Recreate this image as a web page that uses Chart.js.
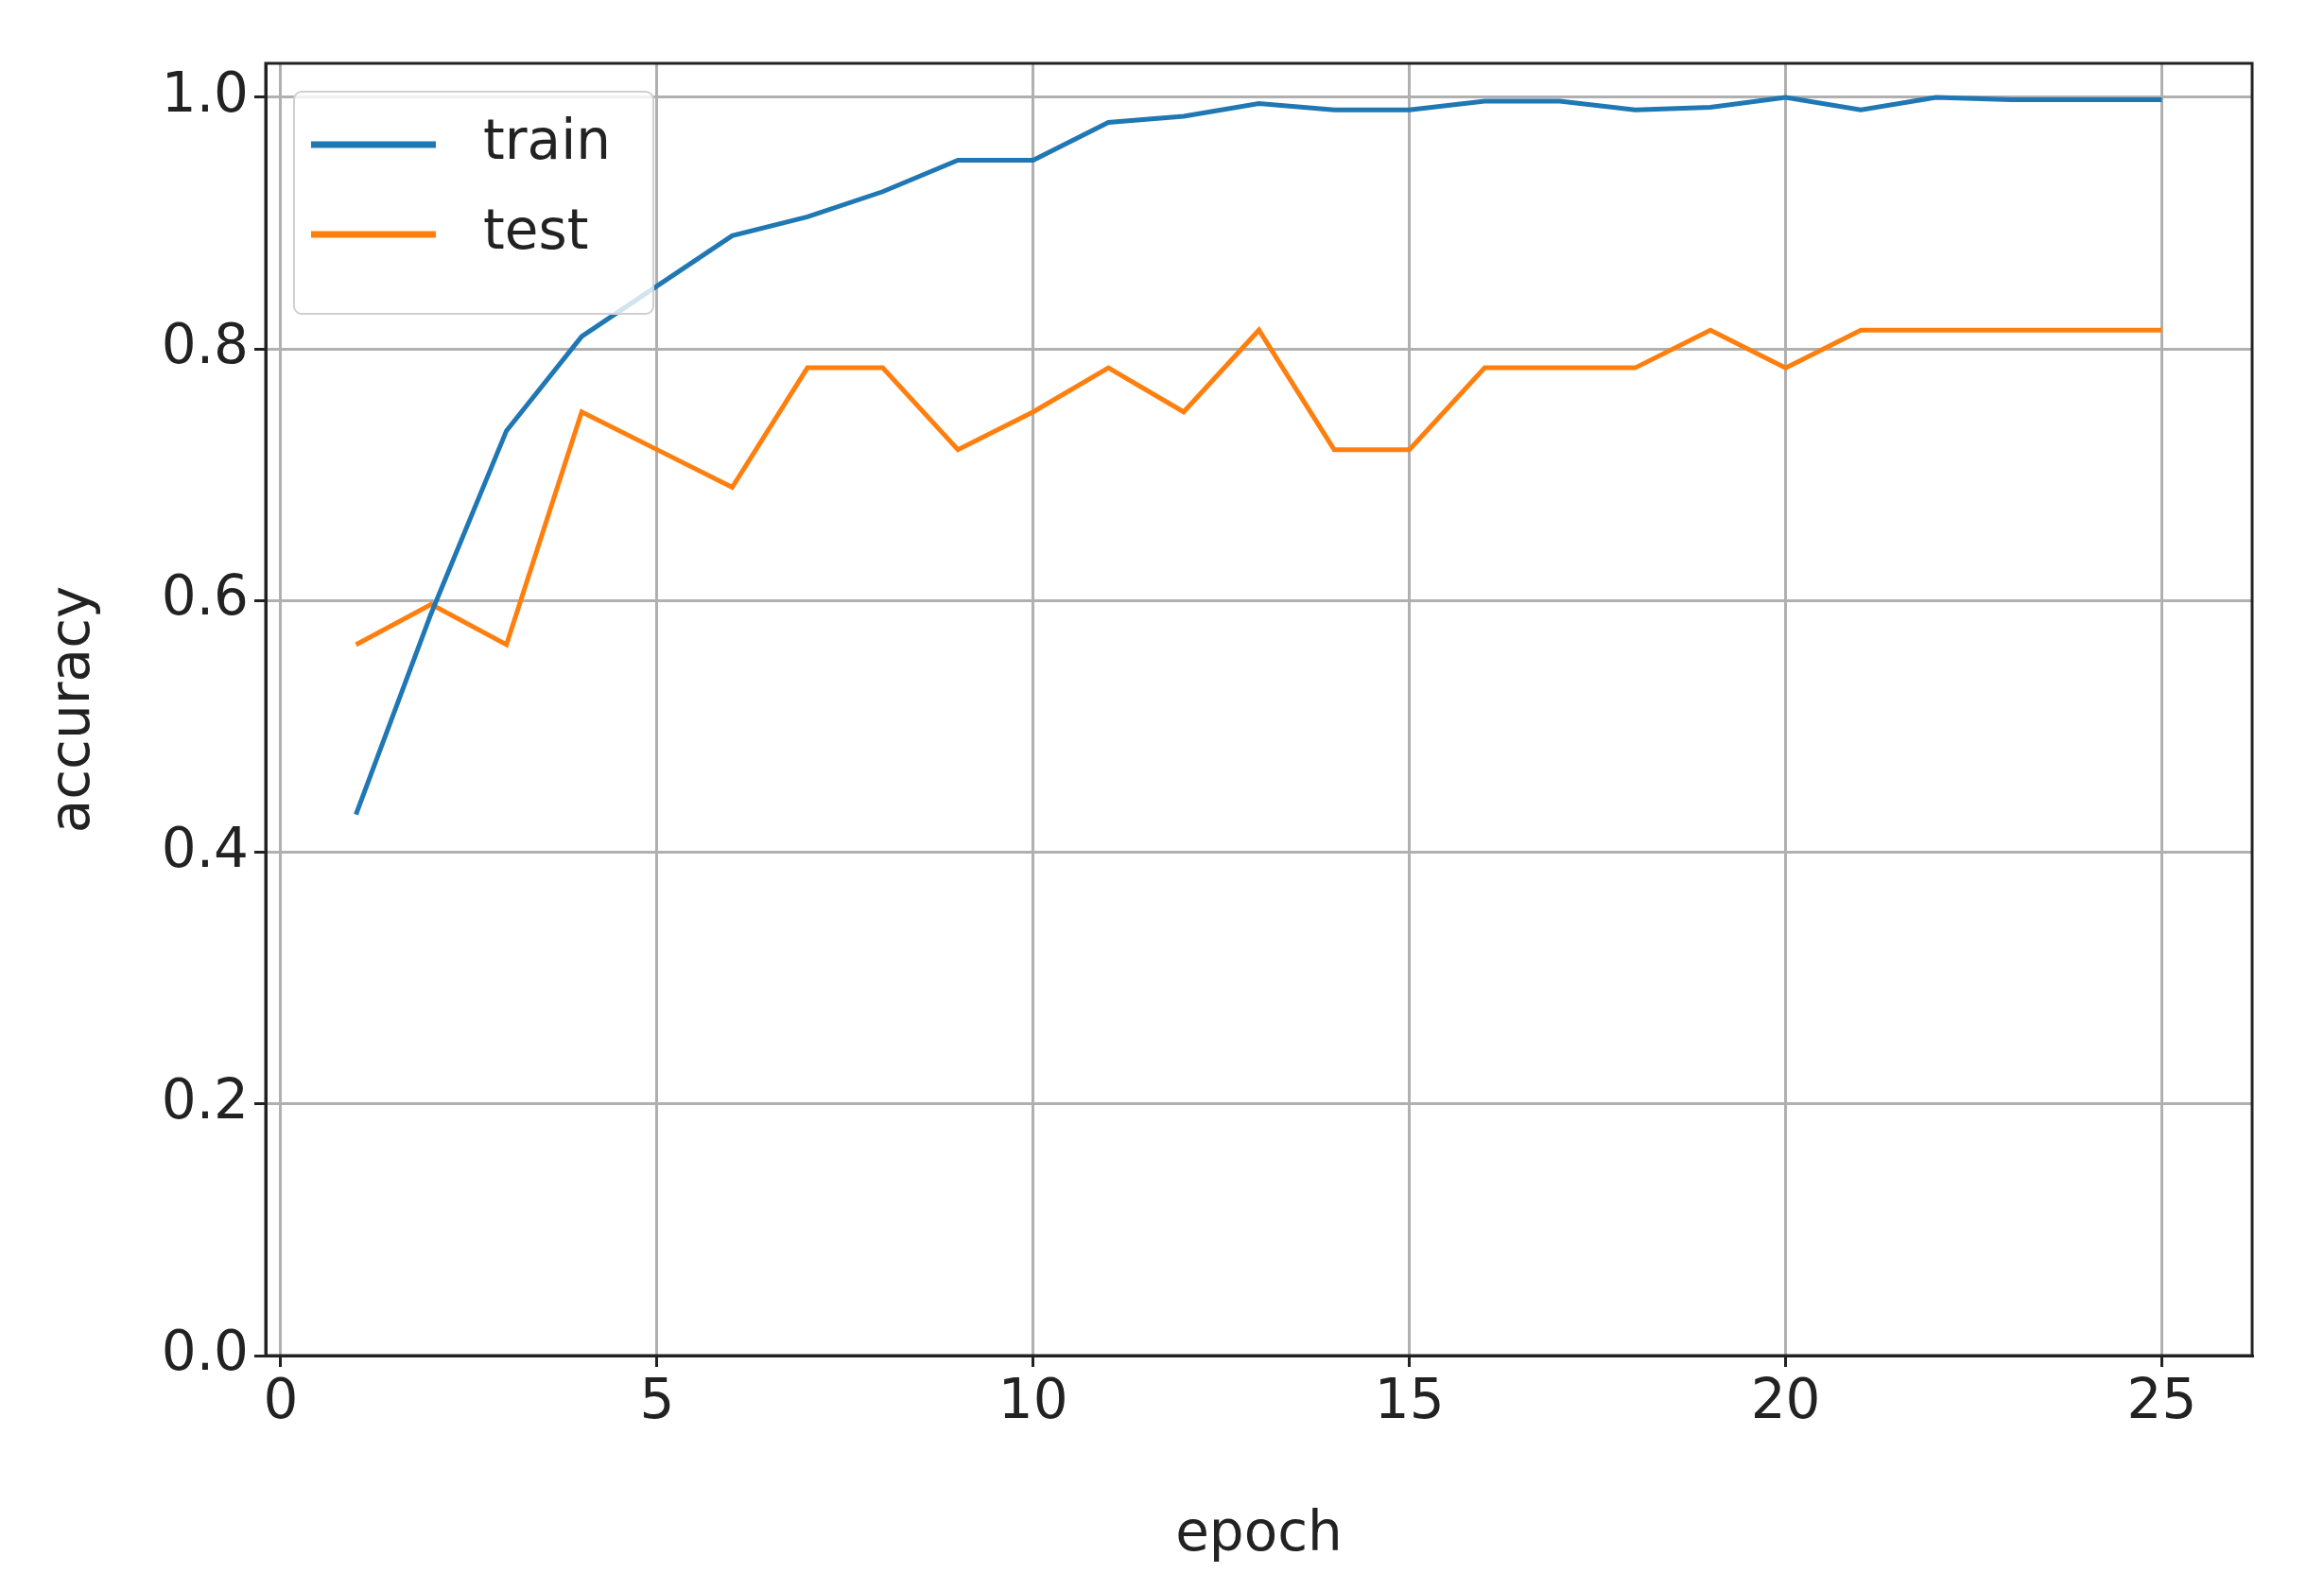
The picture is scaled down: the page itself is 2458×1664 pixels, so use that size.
<!DOCTYPE html>
<html>
<head>
<script src="https://cdn.jsdelivr.net/npm/chart.js@4"></script>
<style>body{margin:0;background:#fff}</style>
</head>
<body>
<canvas id="c" width="2458" height="1664"></canvas>
<script>
const epochs = [1,2,3,4,5,6,7,8,9,10,11,12,13,14,15,16,17,18,19,20,21,22,23,24,25];
const trainAcc = [0.43,0.59,0.735,0.81,0.85,0.89,0.905,0.925,0.95,0.95,0.98,0.985,0.995,0.99,0.99,0.997,0.997,0.99,0.992,1.0,0.99,1.0,0.998,0.998,0.998];
const testAcc = [0.565,0.597,0.565,0.75,0.72,0.69,0.785,0.785,0.72,0.75,0.785,0.75,0.815,0.72,0.72,0.785,0.785,0.785,0.815,0.785,0.815,0.815,0.815,0.815,0.815];
const xTicks = [0,5,10,15,20,25];
const yTicks = [0,0.2,0.4,0.6,0.8,1.0];

const font = "'DejaVu Sans'";
const grid = "#b0b0b0";

// matplotlib-like legend inside the plot
const legendBox = {
  id: "legendBox",
  afterDraw(chart) {
    const ctx = chart.ctx, a = chart.chartArea;
    const x = a.left + 30, y = a.top + 30, w = 380, h = 235;
    ctx.save();
    ctx.fillStyle = "rgba(255,255,255,0.8)";
    ctx.strokeStyle = "#d0d0d0";
    ctx.lineWidth = 2;
    ctx.beginPath();
    ctx.roundRect(x, y, w, h, 8);
    ctx.fill(); ctx.stroke();
    ctx.font = "58px " + font;
    ctx.textBaseline = "middle";
    chart.data.datasets.forEach((ds, i) => {
      const cy = y + 56 + i * 95;
      ctx.strokeStyle = ds.borderColor;
      ctx.lineWidth = 7;
      ctx.beginPath(); ctx.moveTo(x + 18, cy); ctx.lineTo(x + 150, cy); ctx.stroke();
      ctx.fillStyle = "#222";
      ctx.fillText(ds.label, x + 200, cy);
    });
    ctx.strokeStyle = "#222"; ctx.lineWidth = 3;
    ctx.strokeRect(a.left, a.top, a.right - a.left, a.bottom - a.top);
    ctx.restore();
  }
};

new Chart(document.getElementById("c"), {
  type: "line",
  data: {
    datasets: [
      { label: "train", data: epochs.map((e, i) => ({x: e, y: trainAcc[i]})), borderColor: "#1f77b4", borderWidth: 5, pointRadius: 0, tension: 0 },
      { label: "test", data: epochs.map((e, i) => ({x: e, y: testAcc[i]})), borderColor: "#ff7f0e", borderWidth: 5, pointRadius: 0, tension: 0 }
    ]
  },
  options: {
    responsive: false,
    animation: false,
    layout: { padding: { top: 67, right: 76, left: 40, bottom: 0 } },
    plugins: { legend: { display: false }, tooltip: { enabled: false } },
    scales: {
      x: {
        type: "linear", min: -0.2, max: 26.2,
        afterBuildTicks: s => { s.ticks = xTicks.map(v => ({value: v})); },
        afterFit: s => { s.height = 230; },
        grid: { color: grid, lineWidth: 3, tickColor: "#222", tickLength: 12 },
        border: { color: "#222", width: 3 },
        ticks: { color: "#222", font: { family: font, size: 58 }, maxRotation: 0, padding: 4 },
        title: { display: true, text: "epoch", color: "#222", font: { family: font, size: 58 }, padding: { top: 0 } }
      },
      y: {
        min: 0, max: 1.027,
        afterBuildTicks: s => { s.ticks = yTicks.map(v => ({value: v})); },
        afterFit: s => { s.width = 241; },
        grid: { color: grid, lineWidth: 3, tickColor: "#222", tickLength: 12 },
        border: { color: "#222", width: 3 },
        ticks: { color: "#222", font: { family: font, size: 58 }, padding: 6, callback: v => v.toFixed(1) },
        title: { display: true, text: "accuracy", color: "#222", font: { family: font, size: 58 }, padding: { bottom: 0 } }
      }
    }
  },
  plugins: [legendBox]
});
</script>
</body>
</html>
